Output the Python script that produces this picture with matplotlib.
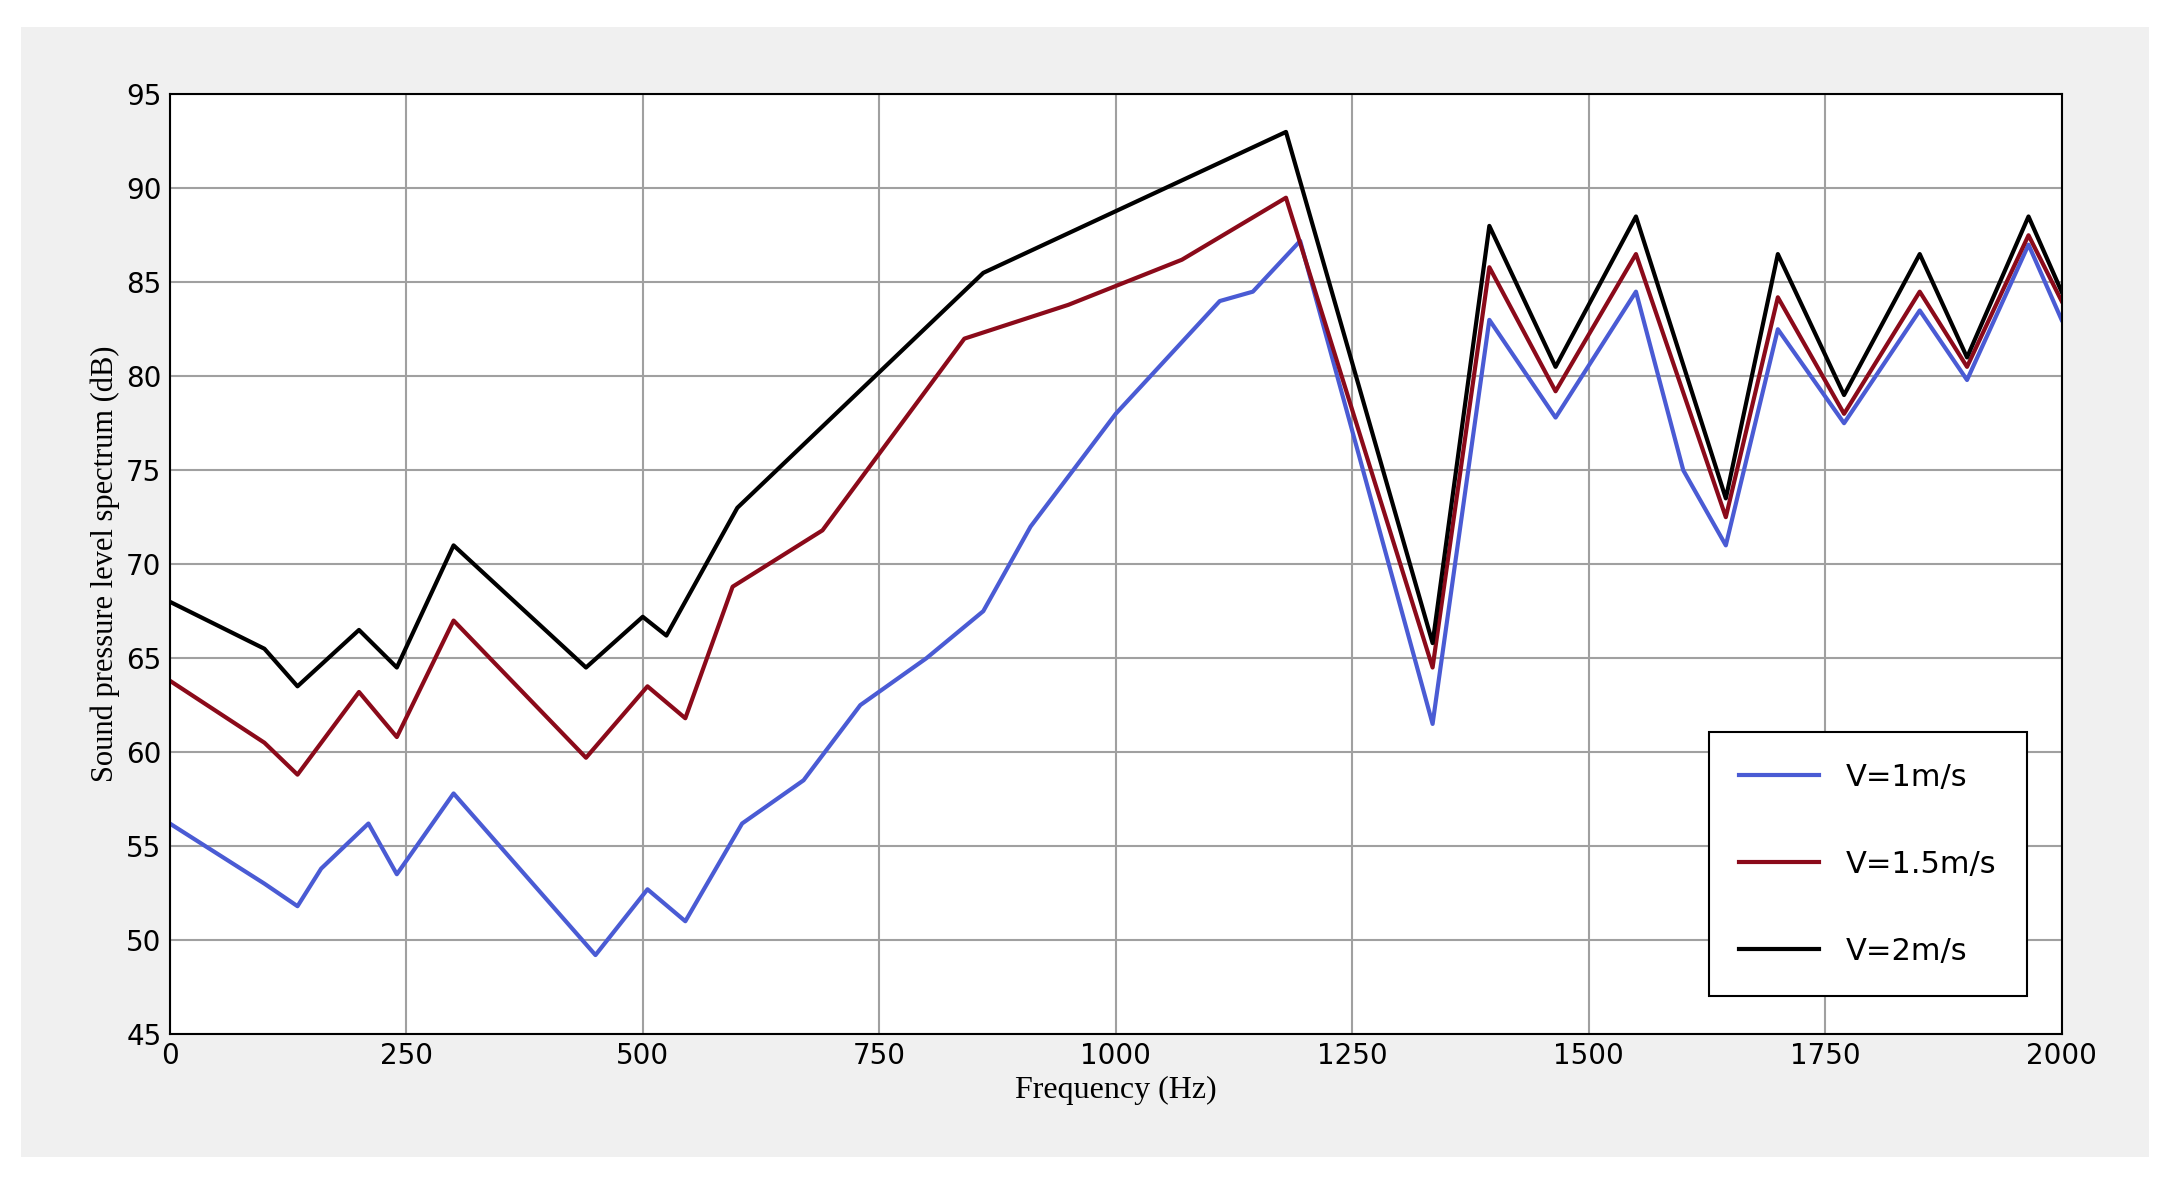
import matplotlib
matplotlib.use("Agg")
import matplotlib.pyplot as plt
from matplotlib.patches import Rectangle

x_black = [0,100,135,200,240,300,440,500,525,600,860,1180,1335,1395,1465,1550,1645,1700,1770,1850,1900,1965,2000]
y_black = [68,65.5,63.5,66.5,64.5,71,64.5,67.2,66.2,73,85.5,93,65.8,88,80.5,88.5,73.5,86.5,79,86.5,81,88.5,84.5]
x_red = [0,100,135,200,240,300,440,505,545,595,690,840,950,1070,1180,1335,1395,1465,1550,1645,1700,1770,1850,1900,1965,2000]
y_red = [63.8,60.5,58.8,63.2,60.8,67,59.7,63.5,61.8,68.8,71.8,82,83.8,86.2,89.5,64.5,85.8,79.2,86.5,72.5,84.2,78,84.5,80.5,87.5,84]
x_blue = [0,100,135,160,210,240,300,450,505,545,605,670,730,800,860,910,1000,1110,1145,1195,1335,1395,1465,1550,1600,1645,1700,1770,1850,1900,1965,2000]
y_blue = [56.2,53,51.8,53.8,56.2,53.5,57.8,49.2,52.7,51,56.2,58.5,62.5,65,67.5,72,78,84,84.5,87.2,61.5,83,77.8,84.5,75,71,82.5,77.5,83.5,79.8,87,83]
labels = ["V=1m/s", "V=1.5m/s", "V=2m/s"]

fig = plt.figure(figsize=(21.77, 11.94), dpi=100)
bg = Rectangle((0.0096, 0.031), 0.9774, 0.946, transform=fig.transFigure,
               facecolor="#f0f0f0", edgecolor="none", zorder=-10)
fig.add_artist(bg)
ax = fig.add_axes([0.078, 0.134, 0.869, 0.787])
ax.set_zorder(1)
ax.plot(x_blue, y_blue, color="#4a5bd4", lw=3, label=labels[0])
ax.plot(x_red, y_red, color="#8b0a1a", lw=3, label=labels[1])
ax.plot(x_black, y_black, color="black", lw=3, label=labels[2])
ax.set_xlim(0, 2000)
ax.set_ylim(45, 95)
ax.set_xticks(range(0, 2001, 250))
ax.set_yticks(range(45, 96, 5))
ax.grid(True, color="#a0a0a0", lw=1.5)
for s in ax.spines.values():
    s.set_linewidth(1.5)
ax.tick_params(labelsize=20, length=0, pad=6)
ax.set_xlabel("Frequency (Hz)", family="Liberation Serif", fontsize=23)
ax.set_ylabel("Sound pressure level spectrum (dB)", family="Liberation Serif", fontsize=22)
leg = ax.legend(loc="lower right", bbox_to_anchor=(0.99, 0.024), fontsize=22,
                labelspacing=1.9, handlelength=2.6, handletextpad=0.9, borderpad=1.0,
                fancybox=False, framealpha=1, edgecolor="black")
leg.get_frame().set_linewidth(1.5)
fig.savefig("out.png", dpi=100)
